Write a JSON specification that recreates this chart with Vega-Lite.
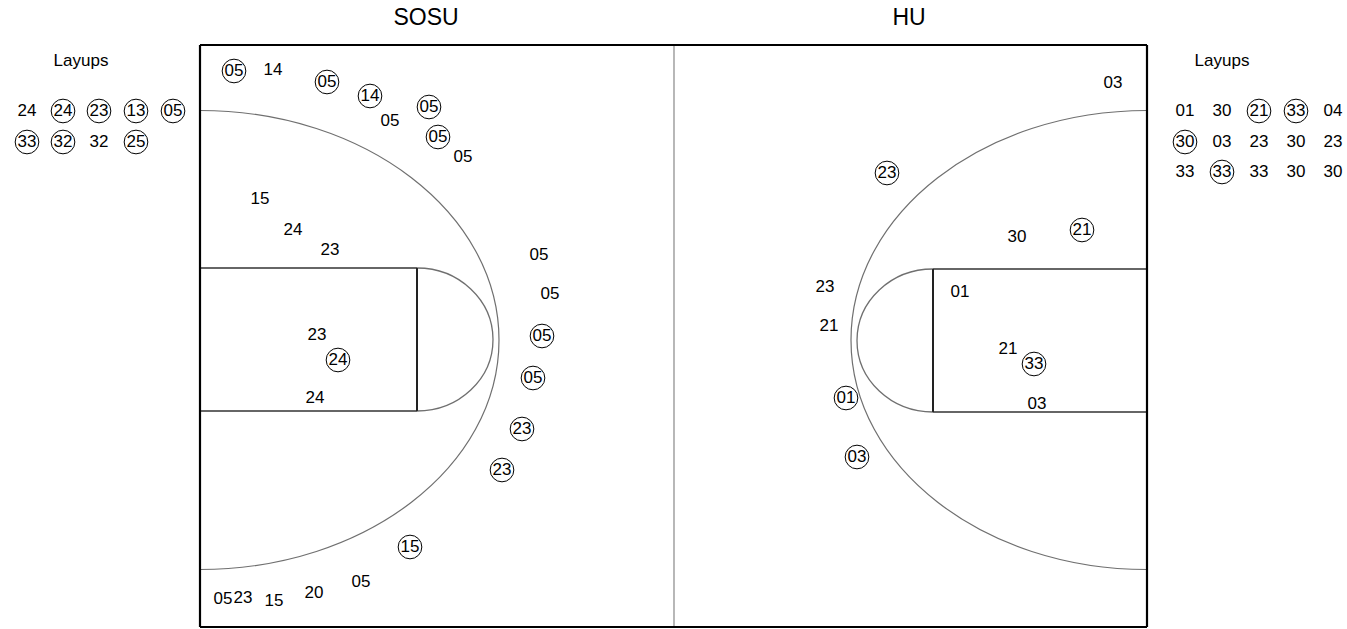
{
  "$schema": "https://vega.github.io/schema/vega-lite/v6.json",
  "width": 1347,
  "height": 629,
  "padding": 0,
  "autosize": {"type": "fit", "contains": "padding"},
  "background": "white",
  "config": {"view": {"stroke": null}, "text": {"font": "Liberation Sans"}},
  "datasets": {
    "shots": [
      {"team": "SOSU", "label": "05", "x": 234, "y": 71, "made": true},
      {"team": "SOSU", "label": "14", "x": 273, "y": 70, "made": false},
      {"team": "SOSU", "label": "05", "x": 327, "y": 82, "made": true},
      {"team": "SOSU", "label": "14", "x": 370, "y": 96, "made": true},
      {"team": "SOSU", "label": "05", "x": 390, "y": 121, "made": false},
      {"team": "SOSU", "label": "05", "x": 429, "y": 107, "made": true},
      {"team": "SOSU", "label": "05", "x": 438, "y": 137, "made": true},
      {"team": "SOSU", "label": "05", "x": 463, "y": 157, "made": false},
      {"team": "SOSU", "label": "15", "x": 260, "y": 199, "made": false},
      {"team": "SOSU", "label": "24", "x": 293, "y": 230, "made": false},
      {"team": "SOSU", "label": "23", "x": 330, "y": 250, "made": false},
      {"team": "SOSU", "label": "05", "x": 539, "y": 255, "made": false},
      {"team": "SOSU", "label": "05", "x": 550, "y": 294, "made": false},
      {"team": "SOSU", "label": "05", "x": 542, "y": 336, "made": true},
      {"team": "SOSU", "label": "05", "x": 533, "y": 378, "made": true},
      {"team": "SOSU", "label": "23", "x": 522, "y": 429, "made": true},
      {"team": "SOSU", "label": "23", "x": 502, "y": 470, "made": true},
      {"team": "SOSU", "label": "23", "x": 317, "y": 335, "made": false},
      {"team": "SOSU", "label": "24", "x": 338, "y": 360, "made": true},
      {"team": "SOSU", "label": "24", "x": 315, "y": 398, "made": false},
      {"team": "SOSU", "label": "15", "x": 410, "y": 547, "made": true},
      {"team": "SOSU", "label": "05", "x": 361, "y": 582, "made": false},
      {"team": "SOSU", "label": "05", "x": 223, "y": 599, "made": false},
      {"team": "SOSU", "label": "23", "x": 243, "y": 598, "made": false},
      {"team": "SOSU", "label": "15", "x": 274, "y": 601, "made": false},
      {"team": "SOSU", "label": "20", "x": 314, "y": 593, "made": false},
      {"team": "SOSU", "label": "24", "x": 27, "y": 111, "made": false},
      {"team": "SOSU", "label": "24", "x": 63, "y": 111, "made": true},
      {"team": "SOSU", "label": "23", "x": 99, "y": 111, "made": true},
      {"team": "SOSU", "label": "13", "x": 136, "y": 111, "made": true},
      {"team": "SOSU", "label": "05", "x": 173, "y": 111, "made": true},
      {"team": "SOSU", "label": "33", "x": 27, "y": 142, "made": true},
      {"team": "SOSU", "label": "32", "x": 63, "y": 142, "made": true},
      {"team": "SOSU", "label": "32", "x": 99, "y": 142, "made": false},
      {"team": "SOSU", "label": "25", "x": 136, "y": 142, "made": true},
      {"team": "HU", "label": "03", "x": 1113, "y": 83, "made": false},
      {"team": "HU", "label": "23", "x": 887, "y": 173, "made": true},
      {"team": "HU", "label": "30", "x": 1017, "y": 237, "made": false},
      {"team": "HU", "label": "21", "x": 1082, "y": 230, "made": true},
      {"team": "HU", "label": "23", "x": 825, "y": 287, "made": false},
      {"team": "HU", "label": "21", "x": 829, "y": 326, "made": false},
      {"team": "HU", "label": "01", "x": 960, "y": 292, "made": false},
      {"team": "HU", "label": "21", "x": 1008, "y": 349, "made": false},
      {"team": "HU", "label": "33", "x": 1034, "y": 364, "made": true},
      {"team": "HU", "label": "03", "x": 1037, "y": 404, "made": false},
      {"team": "HU", "label": "01", "x": 846, "y": 398, "made": true},
      {"team": "HU", "label": "03", "x": 857, "y": 457, "made": true},
      {"team": "HU", "label": "01", "x": 1185, "y": 111, "made": false},
      {"team": "HU", "label": "30", "x": 1222, "y": 111, "made": false},
      {"team": "HU", "label": "21", "x": 1259, "y": 111, "made": true},
      {"team": "HU", "label": "33", "x": 1296, "y": 111, "made": true},
      {"team": "HU", "label": "04", "x": 1333, "y": 111, "made": false},
      {"team": "HU", "label": "30", "x": 1185, "y": 142, "made": true},
      {"team": "HU", "label": "03", "x": 1222, "y": 142, "made": false},
      {"team": "HU", "label": "23", "x": 1259, "y": 142, "made": false},
      {"team": "HU", "label": "30", "x": 1296, "y": 142, "made": false},
      {"team": "HU", "label": "23", "x": 1333, "y": 142, "made": false},
      {"team": "HU", "label": "33", "x": 1185, "y": 172, "made": false},
      {"team": "HU", "label": "33", "x": 1222, "y": 172, "made": true},
      {"team": "HU", "label": "33", "x": 1259, "y": 172, "made": false},
      {"team": "HU", "label": "30", "x": 1296, "y": 172, "made": false},
      {"team": "HU", "label": "30", "x": 1333, "y": 172, "made": false}
    ],
    "border": [
      {"x": 200, "y": 45, "x2": 1147, "y2": 45},
      {"x": 200, "y": 627, "x2": 1147, "y2": 627},
      {"x": 200, "y": 45, "x2": 200, "y2": 627},
      {"x": 1147, "y": 45, "x2": 1147, "y2": 627}
    ],
    "midline": [{"x": 674, "y": 45, "x2": 674, "y2": 627}],
    "keys": [
      {"x": 200, "y": 268, "x2": 417, "y2": 268},
      {"x": 200, "y": 411, "x2": 417, "y2": 411},
      {"x": 933, "y": 269, "x2": 1147, "y2": 269},
      {"x": 933, "y": 412, "x2": 1147, "y2": 412}
    ],
    "ftlines": [
      {"x": 417, "y": 268, "x2": 417, "y2": 411},
      {"x": 933, "y": 269, "x2": 933, "y2": 412}
    ],
    "titles": [
      {"label": "SOSU", "x": 426, "y": 18},
      {"label": "HU", "x": 909, "y": 18}
    ],
    "layuptitles": [
      {"label": "Layups", "x": 81, "y": 61},
      {"label": "Layups", "x": 1222, "y": 61}
    ],
    "leftarc": [{"x": 200, "y": 340}],
    "rightarc": [{"x": 1147, "y": 340}],
    "leftft": [{"x": 417, "y": 339.5}],
    "rightft": [{"x": 933, "y": 340.5}]
  },
  "encoding": {
    "x": {"field": "x", "type": "quantitative", "scale": {"domain": [0, 1347], "nice": false, "zero": false}, "axis": null},
    "y": {"field": "y", "type": "quantitative", "scale": {"domain": [0, 629], "nice": false, "zero": false, "reverse": true}, "axis": null}
  },
  "layer": [
    {
      "data": {"name": "midline"},
      "mark": {"type": "rule", "color": "#888888", "strokeWidth": 1.2},
      "encoding": {"x2": {"field": "x2"}, "y2": {"field": "y2"}}
    },
    {
      "data": {"name": "keys"},
      "mark": {"type": "rule", "color": "#333333", "strokeWidth": 1.3},
      "encoding": {"x2": {"field": "x2"}, "y2": {"field": "y2"}}
    },
    {
      "data": {"name": "ftlines"},
      "mark": {"type": "rule", "color": "#222222", "strokeWidth": 2},
      "encoding": {"x2": {"field": "x2"}, "y2": {"field": "y2"}}
    },
    {
      "data": {"name": "leftarc"},
      "mark": {"type": "point", "filled": false, "stroke": "#333333", "strokeWidth": 1.2, "size": 4, "shape": "M0,-229.5A299,229.5,0,0,1,0,229.5"}
    },
    {
      "data": {"name": "rightarc"},
      "mark": {"type": "point", "filled": false, "stroke": "#333333", "strokeWidth": 1.2, "size": 4, "shape": "M0,-229.5A296,229.5,0,0,0,0,229.5"}
    },
    {
      "data": {"name": "leftft"},
      "mark": {"type": "point", "filled": false, "stroke": "#333333", "strokeWidth": 1.3, "size": 4, "shape": "M0,-71.5A76,71.5,0,0,1,0,71.5"}
    },
    {
      "data": {"name": "rightft"},
      "mark": {"type": "point", "filled": false, "stroke": "#333333", "strokeWidth": 1.3, "size": 4, "shape": "M0,-71.5A76,71.5,0,0,0,0,71.5"}
    },
    {
      "data": {"name": "border"},
      "mark": {"type": "rule", "color": "#000000", "strokeWidth": 2.2},
      "encoding": {"x2": {"field": "x2"}, "y2": {"field": "y2"}}
    },
    {
      "data": {"name": "shots"},
      "transform": [{"filter": "datum.made"}],
      "mark": {"type": "point", "shape": "circle", "filled": false, "stroke": "#000000", "strokeWidth": 1, "size": 560, "opacity": 1}
    },
    {
      "data": {"name": "shots"},
      "mark": {"type": "text", "fontSize": 17, "color": "#000000", "align": "center", "baseline": "middle"},
      "encoding": {"text": {"field": "label"}}
    },
    {
      "data": {"name": "titles"},
      "mark": {"type": "text", "fontSize": 23, "color": "#000000", "align": "center", "baseline": "middle"},
      "encoding": {"text": {"field": "label"}}
    },
    {
      "data": {"name": "layuptitles"},
      "mark": {"type": "text", "fontSize": 17, "color": "#000000", "align": "center", "baseline": "middle"},
      "encoding": {"text": {"field": "label"}}
    }
  ]
}
